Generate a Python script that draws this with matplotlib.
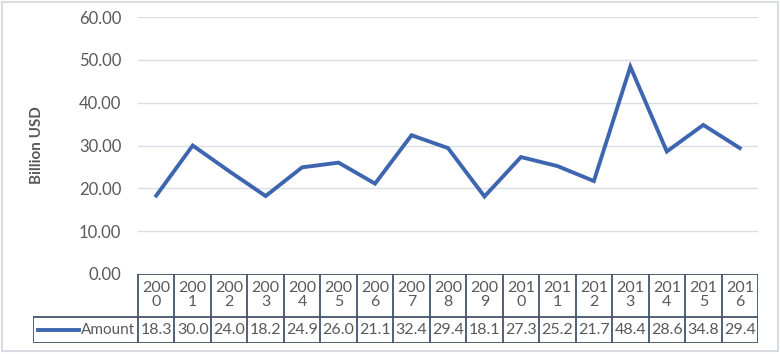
import matplotlib
matplotlib.use("Agg")
import matplotlib.pyplot as plt
from matplotlib.patches import Rectangle

years = ["2000", "2001", "2002", "2003", "2004", "2005", "2006", "2007", "2008",
         "2009", "2010", "2011", "2012", "2013", "2014", "2015", "2016"]
amount = [18.3, 30.0, 24.0, 18.2, 24.9, 26.0, 21.1, 32.4, 29.4,
          18.1, 27.3, 25.2, 21.7, 48.4, 28.6, 34.8, 29.4]
series_name = "Amount"
y_ticks = [0, 10, 20, 30, 40, 50, 60]
y_label = "Billion USD"

plt.rcParams['font.family'] = ['Lato', 'DejaVu Sans']
W, H = 780, 354
fig = plt.figure(figsize=(W / 100, H / 100), dpi=100)
fig.patch.set_facecolor("white")

LINE = "#3E66B0"
TXT = "#595959"
TBL = "#44546A"
GRID = "#D9DEE6"

# outer border
fig.add_artist(Rectangle((2 / W, 3 / H), (W - 4) / W, (H - 5) / H, transform=fig.transFigure,
                         fill=False, edgecolor="#D9DDE3", linewidth=1.5))

x0, x1 = 138, 758
ytop, ybot = 17, 274
n = len(years)
ax = fig.add_axes([x0 / W, (H - ybot) / H, (x1 - x0) / W, (ybot - ytop) / H])
xs = list(range(n))
ax.plot(xs, amount, color=LINE, linewidth=2.8, solid_joinstyle="miter")
ax.set_xlim(-0.5, n - 0.5)
ax.set_ylim(0, 60)
ax.set_yticks(y_ticks)
ax.set_yticklabels([f"{v:.2f}" for v in y_ticks], fontsize=12, color=TXT)
ax.tick_params(axis="y", length=0, pad=12)
ax.set_xticks([])
for s in ax.spines.values():
    s.set_visible(False)
ax.grid(axis="y", color=GRID, linewidth=1)
ax.set_axisbelow(True)
fig.text(37 / W, 1 - 145 / H, y_label, rotation=90, fontsize=11, fontweight="bold",
         color=TXT, ha="center", va="center")

# data table
tl, tt, tb = 33, 274, 343
colw = (x1 - x0) / n
extra = (x0 - tl) / colw
tax = fig.add_axes([tl / W, (H - tb) / H, (x1 - tl) / W, (tb - tt) / H])
tax.set_xlim(-0.5 - extra, n - 0.5)
tax.set_ylim(0, 69)
tax.axis("off")
hr = 26  # data row height; header from 26 to 69
lw = 1.3
tax.plot([-0.5, n - 0.5], [69, 69], color=TBL, lw=lw)
tax.plot([-0.5 - extra, n - 0.5], [hr, hr], color=TBL, lw=lw)
tax.plot([-0.5 - extra, n - 0.5], [0, 0], color=TBL, lw=lw)
tax.plot([-0.5 - extra, -0.5 - extra], [0, hr], color=TBL, lw=lw)
for i in range(n + 1):
    tax.plot([i - 0.5, i - 0.5], [0, 69], color=TBL, lw=lw)
for i, (yr, v) in enumerate(zip(years, amount)):
    tax.text(i, 47.5, yr[:3] + "\n" + yr[3:], ha="center", va="center", fontsize=11.5,
             color=TXT, linespacing=1.0)
    tax.text(i, hr / 2, f"{v:.1f}", ha="center", va="center", fontsize=11.5, color=TXT)
lx0 = -0.5 - extra + 5 / colw
tax.plot([lx0, lx0 + 41 / colw], [hr / 2, hr / 2], color=LINE, lw=2.8)
tax.text(-0.5 - 3 / colw, hr / 2, series_name, ha="right", va="center", fontsize=11, color=TXT)

fig.savefig("out.png", dpi=100, facecolor="white")
